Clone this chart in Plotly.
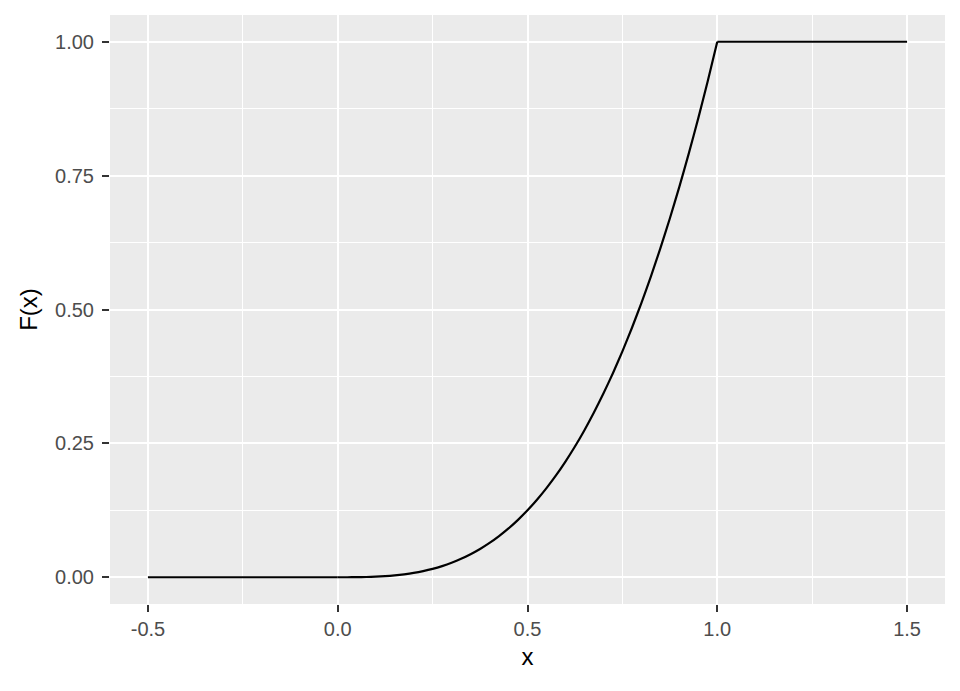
import plotly.graph_objects as go

# Values (CDF curve)
x_vals = [-0.5, 0.0, 0.025, 0.05, 0.075, 0.1, 0.125, 0.15, 0.175, 0.2, 0.225, 0.25,
          0.275, 0.3, 0.325, 0.35, 0.375, 0.4, 0.425, 0.45, 0.475, 0.5, 0.525, 0.55,
          0.575, 0.6, 0.625, 0.65, 0.675, 0.7, 0.725, 0.75, 0.775, 0.8, 0.825, 0.85,
          0.875, 0.9, 0.925, 0.95, 0.975, 1.0, 1.5]
F_vals = [0.0, 0.0, 0.0000, 0.0001, 0.0004, 0.0010, 0.0020, 0.0034, 0.0054, 0.0080,
          0.0114, 0.0156, 0.0208, 0.0270, 0.0343, 0.0429, 0.0527, 0.0640, 0.0768,
          0.0911, 0.1072, 0.1250, 0.1447, 0.1664, 0.1901, 0.2160, 0.2441, 0.2746,
          0.3075, 0.3430, 0.3811, 0.4219, 0.4655, 0.5120, 0.5615, 0.6141, 0.6699,
          0.7290, 0.7915, 0.8574, 0.9269, 1.0, 1.0]

x_ticks = [-0.5, 0.0, 0.5, 1.0, 1.5]
x_tick_text = ["-0.5", "0.0", "0.5", "1.0", "1.5"]
y_ticks = [0.0, 0.25, 0.5, 0.75, 1.0]
y_tick_text = ["0.00", "0.25", "0.50", "0.75", "1.00"]
minor_x = [-0.25, 0.25, 0.75, 1.25]
minor_y = [0.125, 0.375, 0.625, 0.875]

i0 = x_vals.index(0.0)
i1 = x_vals.index(1.0)

fig = go.Figure()
# flat left part
fig.add_trace(go.Scatter(x=x_vals[:i0 + 1], y=F_vals[:i0 + 1], mode="lines",
                         line=dict(color="black", width=2.2),
                         showlegend=False, hoverinfo="x+y"))
# curved middle part
fig.add_trace(go.Scatter(x=x_vals[i0:i1 + 1], y=F_vals[i0:i1 + 1], mode="lines",
                         line=dict(color="black", width=2.2, shape="spline", smoothing=0.5),
                         showlegend=False, hoverinfo="x+y"))
# flat right part
fig.add_trace(go.Scatter(x=x_vals[i1:], y=F_vals[i1:], mode="lines",
                         line=dict(color="black", width=2.2),
                         showlegend=False, hoverinfo="x+y"))

fig.update_layout(
    width=952, height=683,
    margin=dict(l=102, r=15, t=7, b=87),
    paper_bgcolor="white",
    plot_bgcolor="#EBEBEB",
    font=dict(family="Liberation Sans, Arial, sans-serif"),
    xaxis=dict(
        range=[-0.6, 1.6], tickvals=x_ticks, ticktext=x_tick_text,
        showgrid=True, gridcolor="white", gridwidth=2,
        minor=dict(tickvals=minor_x, showgrid=True, gridcolor="white", gridwidth=1, ticks=""),
        ticks="outside", ticklen=7, tickwidth=2, tickcolor="#333333",
        tickfont=dict(size=20, color="#4D4D4D"),
        title=dict(text="x", font=dict(size=24, color="black"), standoff=9),
        zeroline=False, showline=False,
    ),
    yaxis=dict(
        range=[-0.05, 1.05], tickvals=y_ticks, ticktext=y_tick_text,
        showgrid=True, gridcolor="white", gridwidth=2,
        minor=dict(tickvals=minor_y, showgrid=True, gridcolor="white", gridwidth=1, ticks=""),
        ticks="outside", ticklen=7, tickwidth=2, tickcolor="#333333",
        tickfont=dict(size=20, color="#4D4D4D"), ticklabelstandoff=4,
        title=dict(text="F(x)", font=dict(size=24, color="black"), standoff=10),
        zeroline=False, showline=False,
    ),
)

fig.write_html("out.html")
